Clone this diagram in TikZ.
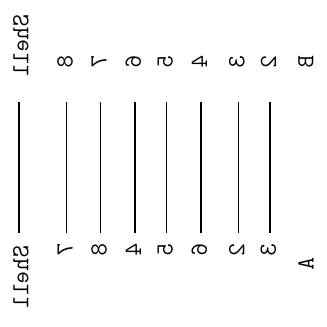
\documentclass[tikz,border=0pt]{standalone}
\usepackage{fontspec}
\begin{document}
\begin{tikzpicture}[x=1pt,y=-1pt,
  lbl/.style={inner sep=0pt, font=\fontsize{17.28}{18}\selectfont\ttfamily, cm={0,-1.42,-1.42,0,(0,0)}},
  wire/.style={line width=1.5pt, black}]
\useasboundingbox (0,0) rectangle (327,327);
\node[lbl] (B) at (306,61.5) {B};
\node[lbl] (A) at (306,264) {A};
\node[lbl] (shT) at (21,46) {Shell};
\node[lbl] (shB) at (21,277.5) {Shell};
\foreach \x/\t/\b/\n in {270/2/3/a, 238.3/3/2/b, 201/4/6/c, 166.7/5/5/d, 135/6/4/e, 100.7/7/8/f, 66.7/8/7/g}{
  \node[lbl] (t\n) at (\x-1.5,61.5) {\t};
  \node[lbl] (b\n) at (\x-1.5,250) {\b};
  \coordinate (p\n) at (\x,102);
  \coordinate (q\n) at (\x,233);
  \draw[wire] (p\n) -- (q\n);
}
\coordinate (ps) at (19,102);
\coordinate (qs) at (19,233);
\draw[wire] (ps) -- (qs);
\end{tikzpicture}
\end{document}
